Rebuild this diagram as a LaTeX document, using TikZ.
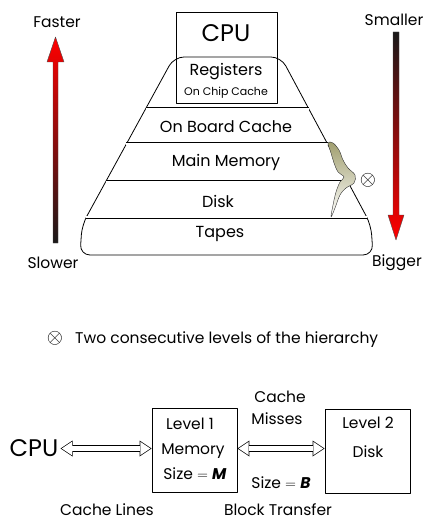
\documentclass[tikz,border=0pt]{standalone}
\usepackage{fontspec}
\setmainfont{Poppins}
\usetikzlibrary{arrows.meta}
\tikzset{lbl/.style = {inner sep = 1pt, font = \fontsize{15.5}{17}\selectfont}}
\tikzset{pyrlbl/.style = {inner sep = 1pt, font = \fontsize{16}{18}\selectfont}}
\tikzset{sidelbl/.style = {inner sep = 1pt, font = \fontsize{15.5}{17}\selectfont}}
\tikzset{sml/.style = {inner sep = 1pt, font = \fontsize{11}{13}\selectfont}}
\tikzset{big/.style = {inner sep = 2pt, font = \fontsize{24}{26}\selectfont}}
\tikzset{crossmark/.style = {inner sep = 0pt, font = \fontsize{20}{22}\selectfont}}
\tikzset{band/.style = {double, double distance = 1.8pt, line width = 0.6pt}}
\tikzset{levelbox/.style = {draw, line width = 0.8pt, minimum width = 85pt, minimum height = 84pt}}
\tikzset{hollowout/.style = {line width = 7pt,
    {Triangle[length = 12pt, width = 16pt, line width = 0pt]}-{Triangle[length = 12pt, width = 16pt, line width = 0pt]}}}
\tikzset{hollowin/.style = {white, line width = 5.6pt, shorten < = 1.3pt, shorten > = 1.3pt,
    {Triangle[length = 10pt, width = 13.4pt, line width = 0pt]}-{Triangle[length = 10pt, width = 13.4pt, line width = 0pt]}}}

\begin{document}
\begin{tikzpicture}[x=1pt, y=-1pt, line join=round]
    \useasboundingbox (0, 0) rectangle (423, 521);
    % pyramid
    \draw [line width = 0.8pt, rounded corners = 10pt] (174, 57) -- (82, 225) -- (80, 255) -- (373, 255) -- (371, 225) -- (281, 57) -- cycle;
    \draw [line width = 0.8pt] (176, 12) rectangle (277, 103);
    \draw [band] (145.5, 109) -- (309.2, 109);
    \draw [band] (126.3, 144) -- (327.9, 144);
    \draw [band] (105.5, 182) -- (346, 182);
    \draw [band] (86.3, 217) -- (367, 217);
    \draw [line width = 0.4pt, draw = black!80, top color = {rgb,255:red,160;green,158;blue,110}, bottom color = white]
        plot [smooth cycle, tension = 0.6] coordinates {(328, 143) (331, 153) (334, 163) (338, 172) (344, 177) (340, 182) (336, 192) (333, 205) (331, 217) (335, 208) (340, 195) (346, 188) (354, 183) (355, 175) (348, 168) (343, 160) (339, 150) (333, 143)};
    \node [crossmark] (cross) at (368, 180) {$\otimes$};

    \node [big] (cpu) at (226, 33) {CPU};
    \node [pyrlbl] (reg) at (226, 72) {Registers};
    \node [sml] (chip) at (226, 93) {On Chip Cache};
    \node [pyrlbl] (board) at (226, 127) {On Board Cache};
    \node [pyrlbl] (mem) at (226, 162) {Main Memory};
    \node [pyrlbl] (disk) at (218, 201) {Disk};
    \node [pyrlbl] (tapes) at (220, 234) {Tapes};

    % speed / size arrows
    \draw [draw = black!70, line width = 0.4pt, top color = red, middle color = red!55!black, bottom color = black!90]
        (53, 243) -- (53, 62) -- (47, 62) -- (55.5, 37) -- (64, 62) -- (58, 62) -- (58, 243) -- cycle;
    \draw [draw = black!70, line width = 0.4pt, top color = black!90, middle color = red!55!black, bottom color = red]
        (393, 32) -- (393, 215) -- (388, 215) -- (396, 240) -- (404, 215) -- (399, 215) -- (399, 32) -- cycle;
    \node [sidelbl] (fast) at (57, 22) {Faster};
    \node [sidelbl] (slow) at (53, 263) {Slower};
    \node [sidelbl] (small) at (394, 20) {Smaller};
    \node [sidelbl] (bigger) at (397, 263) {Bigger};

    \node [crossmark] (legsym) at (55, 338.5) {$\otimes$};
    \node [lbl, anchor = west] (legend) at (74, 340) {Two consecutive levels of the hierarchy};

    % two level model
    \node [big] (cpu2) at (34, 448.5) {CPU};
    \node [levelbox] (l1) at (194.5, 450) {};
    \node [levelbox] (l2) at (367.5, 451.5) {};
    \node [lbl] (lev1) at (190, 424) {Level 1};
    \node [lbl] (memory) at (193, 451) {Memory};
    \node [lbl] (sizem) at (195, 474) {Size $=$ \textbf{\textit{M}}};
    \node [lbl] (lev2) at (368, 423) {Level 2};
    \node [lbl] (disk2) at (368, 452) {Disk};
    \node [lbl] (cache) at (280, 397) {Cache};
    \node [lbl] (misses) at (277, 419) {Misses};
    \node [lbl] (sizeb) at (281, 483) {Size $=$ \textbf{\textit{B}}};
    \node [lbl] (lines) at (107, 510) {Cache Lines};
    \node [lbl] (block) at (278, 510) {Block Transfer};
    \draw [hollowout] (cpu2.east) -- (l1.west |- cpu2.east);
    \draw [hollowin] (cpu2.east) -- (l1.west |- cpu2.east);
    \draw [hollowout] (l1.east |- cpu2.east) -- (l2.west |- cpu2.east);
    \draw [hollowin] (l1.east |- cpu2.east) -- (l2.west |- cpu2.east);
  \end{tikzpicture}
\end{document}
